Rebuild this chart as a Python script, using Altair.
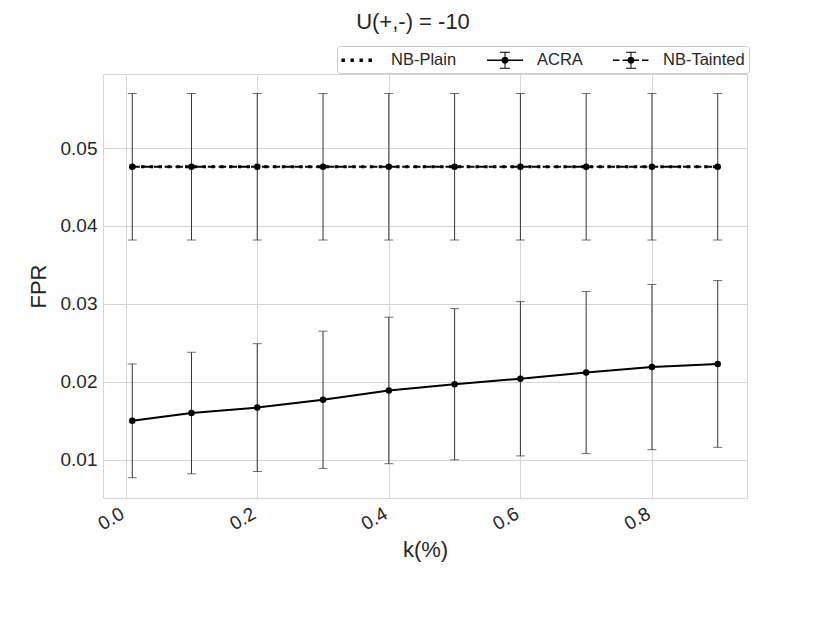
import altair as alt
import pandas as pd

# ---- data ----
k = [0.01, 0.1, 0.2, 0.3, 0.4, 0.5, 0.6, 0.7, 0.8, 0.9]
nb_plain = [0.0476, 0.0476, 0.0476, 0.0476, 0.0476, 0.0476, 0.0476, 0.0476, 0.0476, 0.0476]
acra_mean = [0.0150, 0.0160, 0.0167, 0.0177, 0.0189, 0.0197, 0.0204, 0.0212, 0.0219, 0.0223]
acra_err = [0.0073, 0.0078, 0.0082, 0.0088, 0.0094, 0.0097, 0.0099, 0.0104, 0.0106, 0.0107]
nbt_mean = [0.0476, 0.0476, 0.0476, 0.0476, 0.0476, 0.0476, 0.0476, 0.0476, 0.0476, 0.0476]
nbt_err = [0.0094, 0.0094, 0.0094, 0.0094, 0.0094, 0.0094, 0.0094, 0.0094, 0.0094, 0.0094]
series_names = ["NB-Plain", "ACRA", "NB-Tainted"]
x_ticks = [0.0, 0.2, 0.4, 0.6, 0.8]
y_ticks = [0.01, 0.02, 0.03, 0.04, 0.05]

FONT = "Liberation Sans"
TXT = "#262626"
GRID = "#d5d5d5"

plain_df = pd.DataFrame({"k": k, "fpr": nb_plain})
acra_df = pd.DataFrame({
    "k": k, "fpr": acra_mean,
    "lo": [m - e for m, e in zip(acra_mean, acra_err)],
    "hi": [m + e for m, e in zip(acra_mean, acra_err)],
})
nbt_df = pd.DataFrame({
    "k": k, "fpr": nbt_mean,
    "lo": [m - e for m, e in zip(nbt_mean, nbt_err)],
    "hi": [m + e for m, e in zip(nbt_mean, nbt_err)],
})
legend_df = pd.DataFrame({"series": series_names})

xscale = alt.Scale(domain=[-0.0345, 0.9445], nice=False, zero=False)
yscale = alt.Scale(domain=[0.0051, 0.0595], nice=False, zero=False)
xaxis = alt.Axis(values=x_ticks, format=".1f", title="k(%)", labelAngle=330,
                 labelAlign="right", labelBaseline="top", labelPadding=6,
                 labelOffset=-8, titlePadding=6)
yaxis = alt.Axis(values=y_ticks, format=".2f", title="FPR", labelPadding=6,
                 titlePadding=10)


def xe(f):
    return alt.X(f"{f}:Q", scale=xscale, axis=xaxis, title="k(%)")


def ye(f):
    return alt.Y(f"{f}:Q", scale=yscale, axis=yaxis, title="FPR")


EB = "#333333"


def errbars(df):
    rule = alt.Chart(df).mark_rule(color=EB, strokeWidth=1).encode(
        x=xe("k"), y=ye("lo"), y2="hi")
    cap_lo = alt.Chart(df).mark_tick(color=EB, orient="horizontal", size=9,
                                     thickness=1).encode(x=xe("k"), y=ye("lo"))
    cap_hi = alt.Chart(df).mark_tick(color=EB, orient="horizontal", size=9,
                                     thickness=1).encode(x=xe("k"), y=ye("hi"))
    return [rule, cap_lo, cap_hi]


plain_line = alt.Chart(plain_df).mark_line(
    color="black", strokeWidth=3, strokeDash=[3.3, 5.5]).encode(x=xe("k"), y=ye("fpr"))

acra_line = alt.Chart(acra_df).mark_line(color="black", strokeWidth=2).encode(
    x=xe("k"), y=ye("fpr"))
acra_pts = alt.Chart(acra_df).mark_circle(color="black", size=42, opacity=1).encode(
    x=xe("k"), y=ye("fpr"))

nbt_line = alt.Chart(nbt_df).mark_line(
    color="black", strokeWidth=2, strokeDash=[7.5, 3.3]).encode(x=xe("k"), y=ye("fpr"))
nbt_pts = alt.Chart(nbt_df).mark_circle(color="black", size=42, opacity=1).encode(
    x=xe("k"), y=ye("fpr"))


# legend glyphs, all filled shapes (units: 1 = 10 px)
def rect(x0, y0, x1, y1):
    return f"M{x0},{y0}H{x1}V{y1}H{x0}Z"


dot = "M1.15,0A0.35,0.35,0,1,1,0.45,0A0.35,0.35,0,1,1,1.15,0Z"
bar = rect(0.75, -0.8, 0.85, 0.8) + rect(0.3, -0.85, 1.3, -0.75) + rect(0.3, 0.75, 1.3, 0.85)
path_plain = "".join(rect(x, -0.17, round(x + 0.34, 2), 0.17) for x in [-0.95, -0.05, 0.85, 1.75])
path_acra = rect(-1, -0.075, 2.6, 0.075) + bar + dot
path_nbt = "".join(rect(a, -0.075, b, 0.075) for a, b in
                   [(-1, -0.35), (-0.05, 0.6), (0.95, 1.6), (1.9, 2.55)]) + bar + dot

legend_layer = alt.Chart(legend_df).mark_point(
    filled=True, fill="black", opacity=0, size=400
).encode(
    shape=alt.Shape("series:N",
                    scale=alt.Scale(domain=series_names,
                                    range=[path_plain, path_acra, path_nbt]),
                    legend=alt.Legend(
                        title=None, orient="none", legendX=234, legendY=-28,
                        direction="horizontal", symbolSize=400,
                        symbolFillColor="black", symbolStrokeWidth=0,
                        symbolOpacity=1,
                        labelFont=FONT, labelFontSize=16.5, labelColor=TXT,
                        labelOffset=30, columnPadding=30, padding=4,
                        fillColor="white", strokeColor="#cccccc",
                        cornerRadius=3))
)

layers = [plain_line] + errbars(acra_df) + [acra_line, acra_pts] + \
    errbars(nbt_df) + [nbt_line, nbt_pts, legend_layer]

chart = alt.layer(*layers).properties(
    width=644, height=424,
    autosize=alt.AutoSizeParams(type="none"),
    padding={"left": 95, "top": 66, "right": 75, "bottom": 100},
    title=alt.TitleParams("U(+,-) = -10", font=FONT, fontSize=22,
                          fontWeight="normal", color=TXT, anchor="middle",
                          dx=-12, offset=12),
    background="white",
).configure_view(
    stroke=GRID, strokeWidth=1
).configure_axis(
    grid=True, gridColor=GRID, gridWidth=1, domain=False, ticks=False,
    tickSize=0, labelFont=FONT, labelFontSize=19, labelColor=TXT,
    titleFont=FONT, titleFontSize=22, titleFontWeight="normal", titleColor=TXT,
)

chart.save("out.html", embed_options={"renderer": "svg", "actions": False})
